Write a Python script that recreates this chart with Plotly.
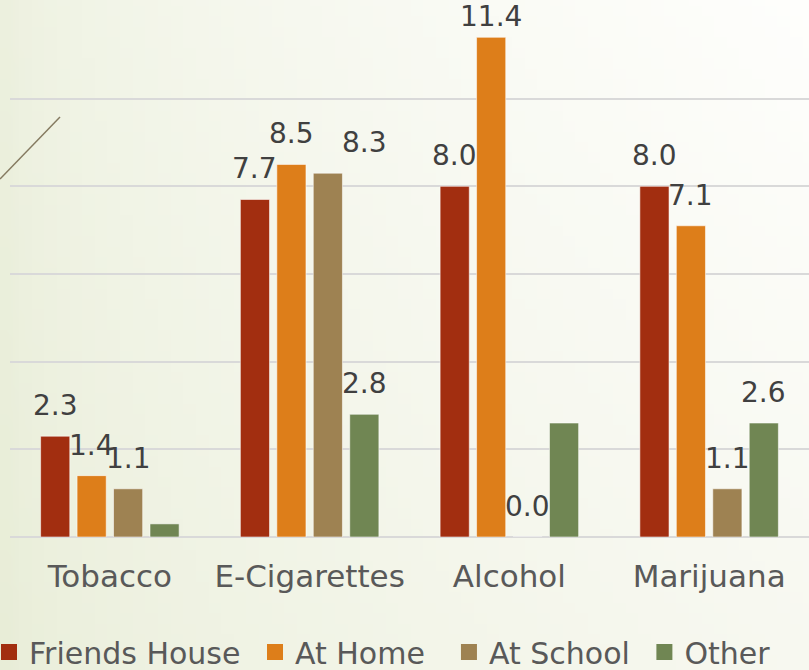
import zlib, struct, base64
import plotly.graph_objects as go

categories = ["Tobacco", "E-Cigarettes", "Alcohol", "Marijuana"]
series_names = ["Friends House", "At Home", "At School", "Other"]
friends_house = [2.3, 7.7, 8.0, 8.0]
at_home = [1.4, 8.5, 11.4, 7.1]
at_school = [1.1, 8.3, 0.0, 1.1]
other = [0.3, 2.8, 2.6, 2.6]
# which data labels are shown (the source chart hides some)
show_labels = {
    "Friends House": [True, True, True, True],
    "At Home": [True, True, True, True],
    "At School": [True, True, True, True],
    "Other": [False, True, False, True],
}
colors = ["#A22E10", "#DD7E1A", "#9E8252", "#708653"]
y_ticks = [0, 2, 4, 6, 8, 10, 12]

# label nudges (pixels) as placed in the source slide
label_nudge = {("At School", "E-Cigarettes"): (37, 0), ("At Home", "Alcohol"): (0, -10)}
# extra spacing after legend entries (non-breaking spaces)
legend_pad = {"Friends House": 1, "At Home": 2, "At School": 1, "Other": 0}

W, H = 809, 670
ML, MR, MT, MB = 10, 0, 11, 133
PW, PH = W - ML - MR, H - MT - MB
BARGAP, GROUPGAP = 0.27, 0.2


def gradient_png(w, h):
    tl, tr = (236, 240, 222), (254, 254, 252)
    bl, br = (232, 237, 215), (247, 248, 240)
    rows = []
    for j in range(h):
        v = j / (h - 1)
        left = [tl[k] + (bl[k] - tl[k]) * v for k in range(3)]
        right = [tr[k] + (br[k] - tr[k]) * v for k in range(3)]
        row = bytearray(b"\x00")
        for i in range(w):
            s = (i / (w - 1)) ** 0.55
            row += bytes(int(round(left[k] + (right[k] - left[k]) * s)) for k in range(3))
        rows.append(bytes(row))
    raw = b"".join(rows)

    def chunk(t, d):
        c = struct.pack(">I", len(d)) + t + d
        return c + struct.pack(">I", zlib.crc32(t + d) & 0xFFFFFFFF)

    png = (b"\x89PNG\r\n\x1a\n"
           + chunk(b"IHDR", struct.pack(">IIBBBBB", w, h, 8, 2, 0, 0, 0))
           + chunk(b"IDAT", zlib.compress(raw))
           + chunk(b"IEND", b""))
    return "data:image/png;base64," + base64.b64encode(png).decode()


def px_x(p):
    return (p - ML) / PW


def px_y(p):
    return (H - MB - p) / PH


FONT = "DejaVu Sans"
fig = go.Figure()
all_series = [friends_house, at_home, at_school, other]
slot = (PW / len(categories)) * (1 - BARGAP) / len(series_names)
for si, (name, vals, col) in enumerate(zip(series_names, all_series, colors)):
    fig.add_trace(go.Bar(
        name=name, x=categories, y=vals, showlegend=False,
        marker=dict(color=col, line=dict(color="rgba(255,255,255,0.55)", width=1)),
    ))
    # legend key
    fig.add_trace(go.Scatter(
        name=name + "&nbsp;" * legend_pad[name], x=[None], y=[None], mode="markers",
        marker=dict(symbol="square", size=16, color=col), hoverinfo="skip",
    ))
    for ci, (cat, v) in enumerate(zip(categories, vals)):
        if not show_labels[name][ci]:
            continue
        dx, dy = label_nudge.get((name, cat), (0, 0))
        fig.add_annotation(
            x=cat, y=v, xref="x", yref="y", text=f"{v:.1f}", showarrow=False,
            xanchor="center", yanchor="bottom",
            xshift=(si - (len(series_names) - 1) / 2) * slot + dx, yshift=12 + dy,
            font=dict(family=FONT, size=28, color="#404040"),
        )

fig.add_layout_image(dict(
    source=gradient_png(64, 64), xref="paper", yref="paper",
    x=px_x(0), y=px_y(0), sizex=W / PW, sizey=H / PH,
    xanchor="left", yanchor="top", sizing="stretch", layer="below",
))
fig.add_shape(type="line", xref="paper", yref="paper",
              x0=px_x(0), y0=px_y(179), x1=px_x(60), y1=px_y(117),
              line=dict(color="#857a60", width=1.5))

fig.update_layout(
    width=W, height=H,
    margin=dict(l=ML, r=MR, t=MT, b=MB, autoexpand=False),
    paper_bgcolor="#f5f7ee", plot_bgcolor="rgba(0,0,0,0)",
    barmode="group", bargap=BARGAP, bargroupgap=GROUPGAP,
    font=dict(family=FONT, color="#595959"),
    showlegend=True,
    legend=dict(orientation="h", x=px_x(-11), xanchor="left", y=px_y(652), yanchor="middle",
                font=dict(family=FONT, size=30, color="#595959"),
                bgcolor="rgba(0,0,0,0)", itemwidth=30),
    xaxis=dict(tickfont=dict(family=FONT, size=31, color="#595959"), ticks="",
               ticklabelstandoff=18, showline=False, showgrid=False),
    yaxis=dict(range=[0, 12], tickvals=y_ticks, showticklabels=False, ticks="",
               showgrid=True, gridcolor="#d9d9d9", gridwidth=2,
               zeroline=True, zerolinecolor="#d9d9d9", zerolinewidth=2, showline=False),
)

fig.write_html("out.html", config={"displayModeBar": False},
               post_script="document.body.style.margin='0';document.body.style.overflow='hidden';")
